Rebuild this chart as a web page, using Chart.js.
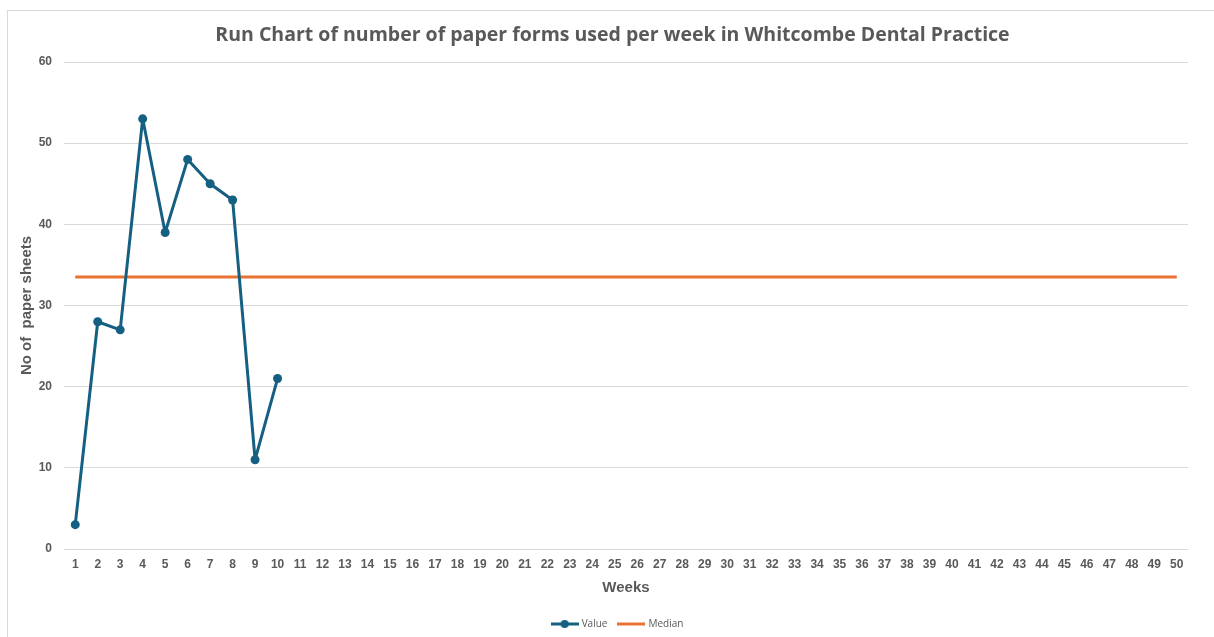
<!DOCTYPE html>
<html lang="en">
  <head>
    <meta charset="UTF-8" />
    <title>Run Chart - Whitcombe Dental Practice</title>
    <script src="https://cdn.jsdelivr.net/npm/chart.js"></script>
    <style>
      html, body {
        margin: 0;
        padding: 0;
        background: #ffffff;
        overflow: hidden;
      }
      #wrap {
        position: relative;
        width: 1214px;
        height: 637px;
      }
      #frame {
        position: absolute;
        left: 7px;
        top: 10px;
        width: 1300px;
        height: 700px;
        border: 1px solid #d9d9d9;
        pointer-events: none;
      }
    </style>
  </head>
  <body>
    <div id="wrap">
      <canvas id="runChart" width="1214" height="637"></canvas>
      <div id="frame"></div>
    </div>
    <script>
      // weeks on the x axis
      const weeks = [
        1, 2, 3, 4, 5, 6, 7, 8, 9, 10, 11, 12, 13, 14, 15, 16, 17, 18, 19, 20,
        21, 22, 23, 24, 25, 26, 27, 28, 29, 30, 31, 32, 33, 34, 35, 36, 37, 38,
        39, 40, 41, 42, 43, 44, 45, 46, 47, 48, 49, 50,
      ];
      // paper sheets used per week (only 10 weeks recorded so far)
      const sheetsPerWeek = [3, 28, 27, 53, 39, 48, 45, 43, 11, 21];
      const medianValue = 33.5;
      const yTicks = [0, 10, 20, 30, 40, 50, 60];

      const blue = "#156082";
      const orange = "#E97132";
      const textGrey = "#595959";

      // legend markers: line + dot for Value, plain line for Median
      function legendMarker(color, withDot) {
        const c = document.createElement("canvas");
        c.width = 28;
        c.height = 10;
        const ctx = c.getContext("2d");
        ctx.strokeStyle = color;
        ctx.lineWidth = 3;
        ctx.beginPath();
        ctx.moveTo(0, 5);
        ctx.lineTo(28, 5);
        ctx.stroke();
        if (withDot) {
          ctx.fillStyle = color;
          ctx.beginPath();
          ctx.arc(14, 5, 4, 0, Math.PI * 2);
          ctx.fill();
        }
        return c;
      }

      // title and legend sit a bit right of the plot centre in the original
      const nudgeBlocks = {
        id: "nudgeBlocks",
        afterLayout(chart) {
          chart.titleBlock.left += 27;
          chart.legend.left += 19;
          chart.legend.right += 19;
        },
      };

      new Chart(document.getElementById("runChart"), {
        type: "line",
        data: {
          labels: weeks,
          datasets: [
            {
              label: "Value",
              data: sheetsPerWeek,
              borderColor: blue,
              backgroundColor: blue,
              borderWidth: 3,
              borderJoinStyle: "round",
              pointRadius: 4.5,
              pointHoverRadius: 4.5,
              pointBackgroundColor: blue,
              pointBorderWidth: 0,
              tension: 0,
              fill: false,
              pointStyle: "circle",
            },
            {
              label: "Median",
              data: weeks.map(() => medianValue),
              borderColor: orange,
              backgroundColor: orange,
              borderWidth: 3,
              pointRadius: 0,
              fill: false,
            },
          ],
        },
        plugins: [nudgeBlocks],
        options: {
          responsive: false,
          animation: false,
          layout: {
            padding: { left: 10, right: 26, top: 24, bottom: -2 },
          },
          plugins: {
            title: {
              display: true,
              text: "Run Chart of number of paper forms used per week in Whitcombe Dental Practice",
              color: textGrey,
              font: { family: "Open Sans", size: 19.5, weight: "bold" },
              padding: { top: 0, bottom: 14.6 },
            },
            legend: {
              position: "bottom",
              labels: {
                color: textGrey,
                font: { family: "Open Sans", size: 10 },
                usePointStyle: true,
                pointStyleWidth: 24,
                padding: 12,
                generateLabels: function (chart) {
                  return chart.data.datasets.map((ds, i) => ({
                    text: ds.label,
                    fontColor: textGrey,
                    pointStyle: legendMarker(ds.borderColor, i === 0),
                    datasetIndex: i,
                    lineWidth: 0,
                    strokeStyle: "rgba(0,0,0,0)",
                    fillStyle: "rgba(0,0,0,0)",
                  }));
                },
              },
            },
            tooltip: { enabled: false },
          },
          scales: {
            x: {
              type: "category",
              offset: true,
              grid: { display: false, drawTicks: false },
              border: { display: false },
              ticks: {
                color: textGrey,
                font: { family: "Liberation Sans", size: 12, weight: "bold" },
                autoSkip: false,
                maxRotation: 0,
                padding: 8,
              },
              title: {
                display: true,
                text: "Weeks",
                color: textGrey,
                font: { family: "Liberation Sans", size: 15, weight: "bold" },
                padding: { top: -1, bottom: 10.6 },
              },
            },
            y: {
              min: 0,
              max: 60,
              afterBuildTicks: function (scale) {
                scale.ticks = yTicks.map((v) => ({ value: v }));
              },
              afterFit: function (scale) {
                scale.width = 54;
              },
              grid: {
                color: "#d9d9d9",
                lineWidth: 1,
                drawTicks: false,
              },
              border: { display: false },
              ticks: {
                color: textGrey,
                font: { family: "Liberation Sans", size: 12, weight: "bold" },
                padding: 12,
              },
              title: {
                display: true,
                text: "No of  paper sheets",
                color: textGrey,
                font: { family: "Liberation Sans", size: 15, weight: "bold" },
                padding: { top: 8, bottom: 0 },
              },
            },
          },
        },
      });
    </script>
  </body>
</html>
